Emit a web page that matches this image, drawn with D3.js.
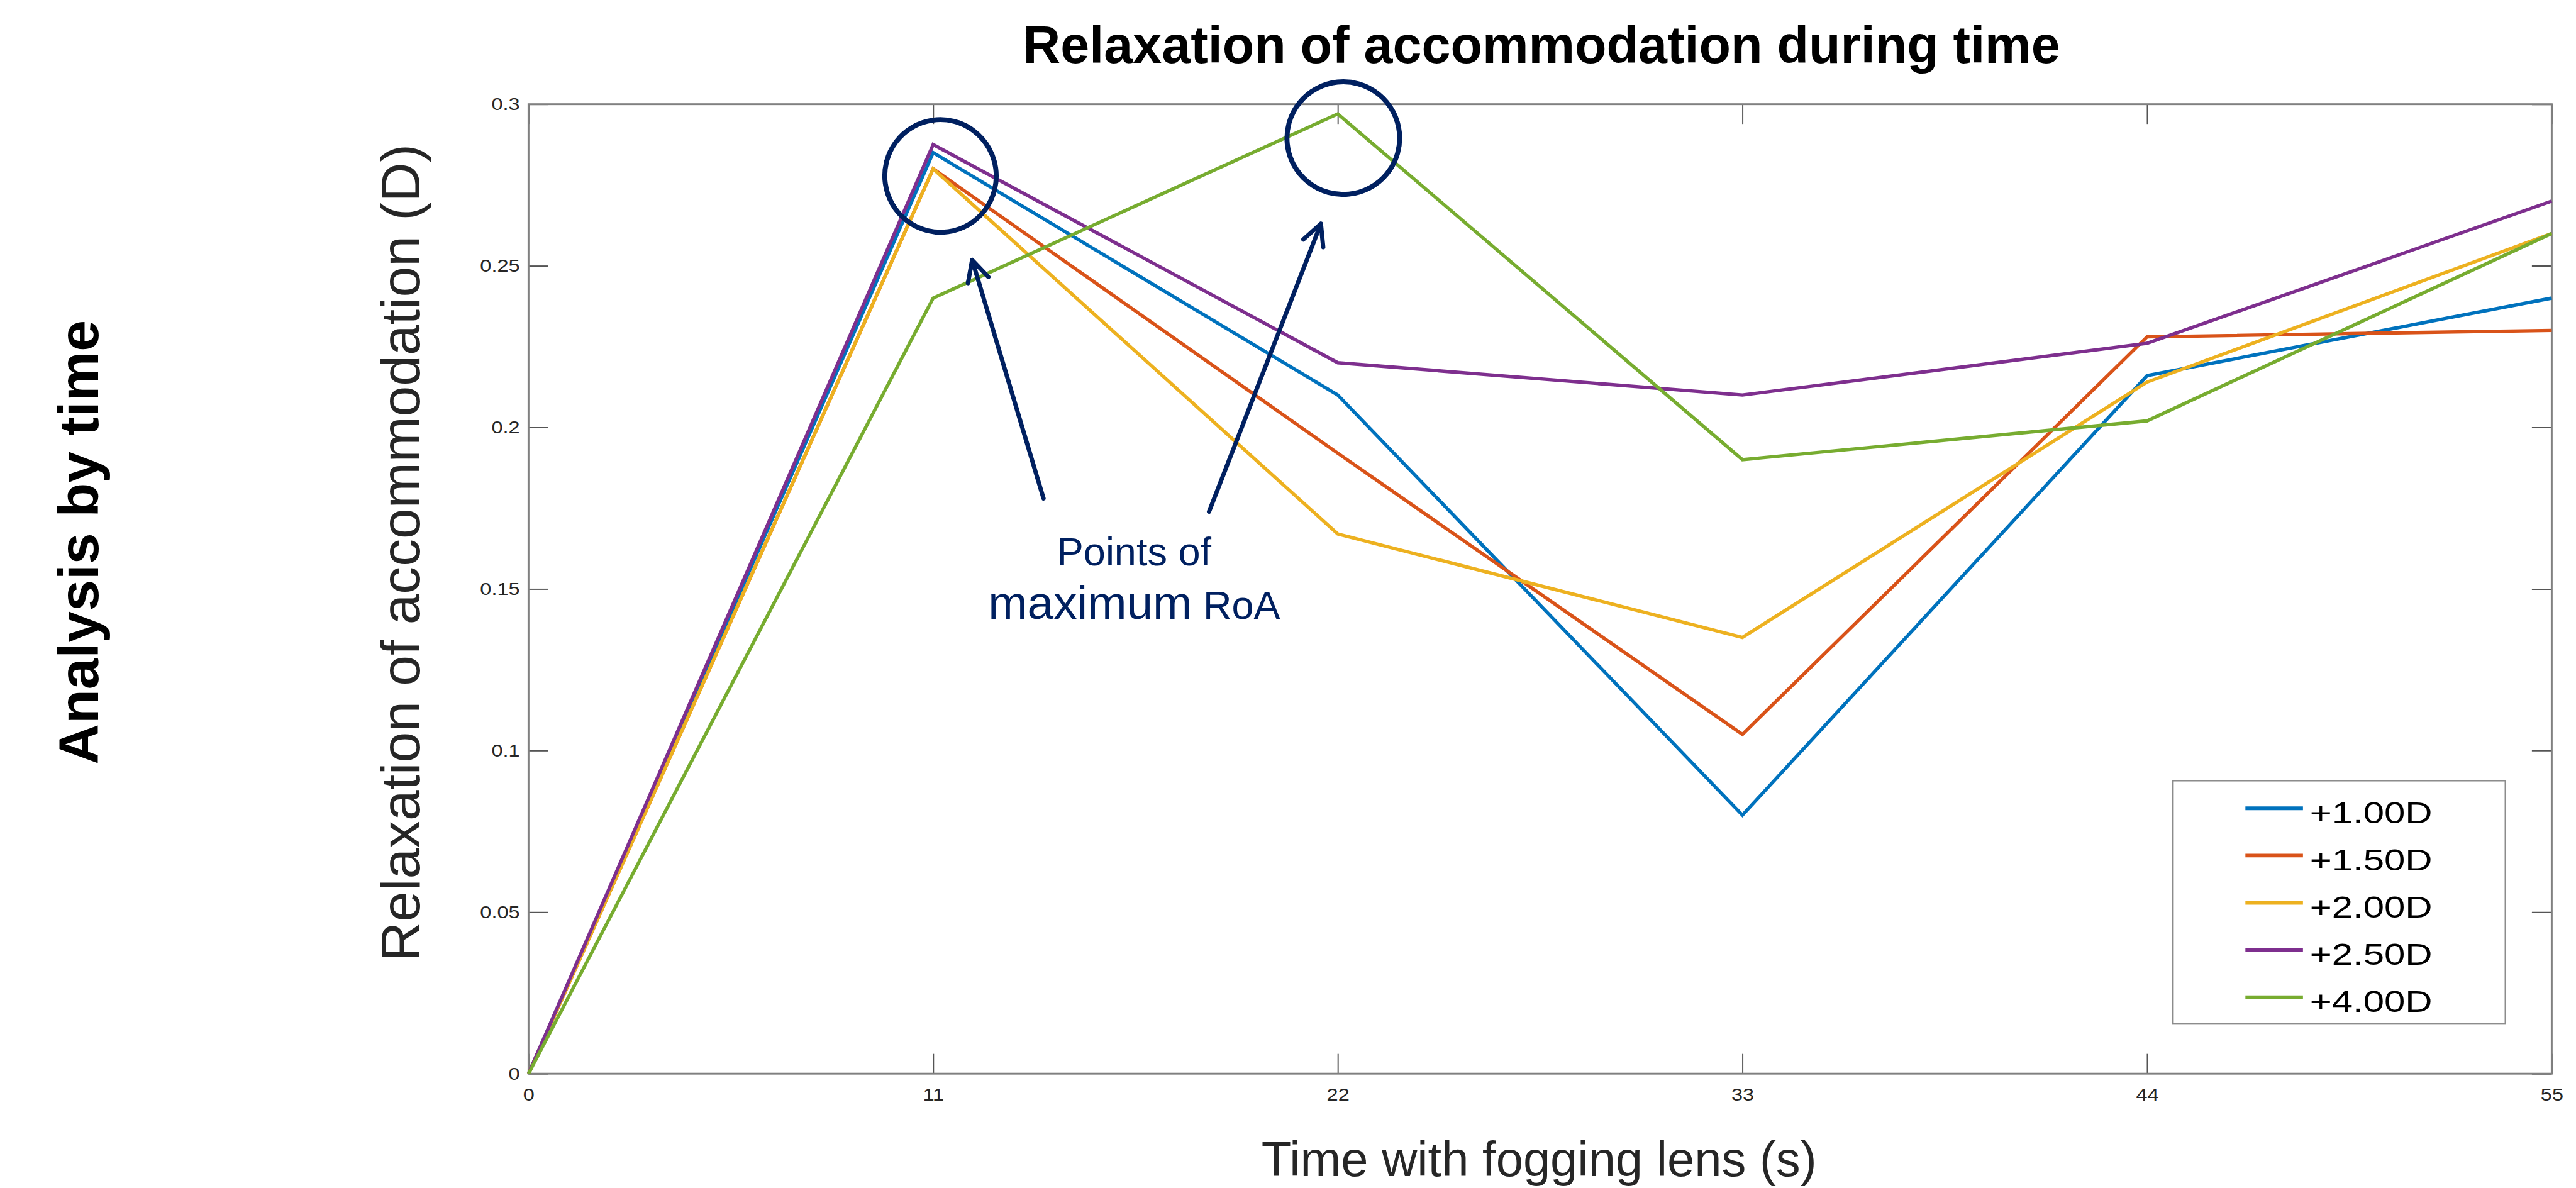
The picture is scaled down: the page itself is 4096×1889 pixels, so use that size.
<!DOCTYPE html>
<html>
<head>
<meta charset="utf-8">
<script src="https://cdn.jsdelivr.net/npm/d3@7"></script>
<style>
  html, body { margin: 0; padding: 0; background: #fff; }
  svg { display: block; }
  text { font-family: "Liberation Sans", Arial, Helvetica, sans-serif; }
</style>
</head>
<body>
<svg id="chart"></svg>
<script>
// data
const times = [0, 11, 22, 33, 44, 55];
const seriesNames = ["+1.00D", "+1.50D", "+2.00D", "+2.50D", "+4.00D"];
const roa100 = [0, 0.285, 0.21, 0.08, 0.216, 0.24];
const roa150 = [0, 0.28, 0.192, 0.105, 0.228, 0.23];
const roa200 = [0, 0.28, 0.167, 0.135, 0.214, 0.26];
const roa250 = [0, 0.2875, 0.22, 0.21, 0.226, 0.27];
const roa400 = [0, 0.24, 0.297, 0.19, 0.202, 0.26];
const yTicks = [0, 0.05, 0.1, 0.15, 0.2, 0.25, 0.3];
const xTicks = [0, 11, 22, 33, 44, 55];

const seriesValues = [roa100, roa150, roa200, roa250, roa400];
const seriesColors = ["#0072BD", "#D95319", "#EDB120", "#7E2F8E", "#77AC30"];
const navy = "#002060";

// layout in reference pixels, viewBox scales it to the window
const W = 4161, H = 1919;
const svg = d3.select("#chart")
    .attr("width", 4096)
    .attr("height", 1889)
    .attr("viewBox", `0 0 ${W} ${H}`);

const plot = {left: 853.7, right: 4121.8, top: 168.3, bottom: 1734.3};
const x = d3.scaleLinear().domain([0, 55]).range([plot.left, plot.right]);
const y = d3.scaleLinear().domain([0, 0.3]).range([plot.bottom, plot.top]);

const tickLen = 32;
const tickFont = 28;

function styleAxis(g) {
    g.select(".domain").remove();
    g.selectAll(".tick line").attr("stroke", "#555").attr("stroke-width", 2);
    g.selectAll(".tick text")
        .attr("fill", "#262626")
        .style("font-size", tickFont + "px")
        .style("font-family", "'Liberation Sans', Arial, sans-serif");
}

svg.append("g")
    .attr("transform", `translate(0,${plot.bottom})`)
    .call(d3.axisBottom(x).tickValues(xTicks).tickSizeInner(-tickLen).tickSizeOuter(0).tickPadding(24))
    .call(styleAxis);

svg.append("g")
    .attr("transform", `translate(${plot.left},0)`)
    .call(d3.axisLeft(y).tickValues(yTicks).tickFormat(d3.format("~g")).tickSizeInner(-tickLen).tickSizeOuter(0).tickPadding(14))
    .call(styleAxis);

svg.append("g")
    .attr("transform", `translate(0,${plot.top})`)
    .call(d3.axisTop(x).tickValues(xTicks).tickFormat("").tickSizeInner(-tickLen).tickSizeOuter(0))
    .call(styleAxis);

svg.append("g")
    .attr("transform", `translate(${plot.right},0)`)
    .call(d3.axisRight(y).tickValues(yTicks).tickFormat("").tickSizeInner(-tickLen).tickSizeOuter(0))
    .call(styleAxis);

// the matlab part of the picture is a bit wider than the font
svg.selectAll(".tick text").each(function() {
    const len = this.getComputedTextLength();
    if (len > 0) {
        d3.select(this).attr("textLength", len * 1.18).attr("lengthAdjust", "spacingAndGlyphs");
    }
});

svg.append("rect")
    .attr("x", plot.left)
    .attr("y", plot.top)
    .attr("width", plot.right - plot.left)
    .attr("height", plot.bottom - plot.top)
    .attr("fill", "none")
    .attr("stroke", "#808080")
    .attr("stroke-width", 3);

// series
const series = seriesNames.map((name, i) => ({name: name, color: seriesColors[i], values: seriesValues[i]}));

const line = d3.line()
    .x((d, i) => x(times[i]))
    .y(d => y(d));

svg.append("g")
    .selectAll("path")
    .data(series)
    .join("path")
    .attr("d", d => line(d.values))
    .attr("fill", "none")
    .attr("stroke", d => d.color)
    .attr("stroke-width", 5.5);

// legend
const legend = svg.append("g");
legend.append("rect")
    .attr("x", 3510).attr("y", 1261)
    .attr("width", 537).attr("height", 393)
    .attr("fill", "#fff")
    .attr("stroke", "#8c8c8c")
    .attr("stroke-width", 2.5);

const rows = legend.selectAll(".row")
    .data(series)
    .join("g")
    .attr("class", "row")
    .attr("transform", (d, i) => `translate(0,${1305.7 + i * 76.3})`);

rows.append("line")
    .attr("x1", 3627).attr("x2", 3720)
    .attr("stroke", d => d.color)
    .attr("stroke-width", 6);

rows.append("text")
    .attr("x", 3731)
    .attr("y", 24)
    .attr("textLength", 198)
    .attr("lengthAdjust", "spacingAndGlyphs")
    .style("font-size", "48px")
    .attr("fill", "#000")
    .text(d => d.name);

// titles and axis labels
svg.append("text")
    .attr("x", 2490).attr("y", 102)
    .attr("text-anchor", "middle")
    .style("font-size", "84px")
    .style("font-weight", "bold")
    .text("Relaxation of accommodation during time");

svg.append("text")
    .attr("x", 2486).attr("y", 1900)
    .attr("text-anchor", "middle")
    .attr("fill", "#262626")
    .style("font-size", "79px")
    .text("Time with fogging lens (s)");

svg.append("text")
    .attr("transform", "translate(678,893) rotate(-90)")
    .attr("text-anchor", "middle")
    .attr("fill", "#262626")
    .style("font-size", "89px")
    .text("Relaxation of accommodation (D)");

svg.append("text")
    .attr("transform", "translate(158,876) rotate(-90)")
    .attr("text-anchor", "middle")
    .style("font-size", "91px")
    .style("font-weight", "bold")
    .text("Analysis by time");

// annotation: circles, arrows and note, placed in data units
const circles = [
    {t: 11.2, v: 0.2778, rx: 90, ry: 91, rot: -8},
    {t: 22.15, v: 0.2895, rx: 91, ry: 91, rot: -6}
];
const arrows = [
    {t0: 14.0, v0: 0.178, t1: 12.06, v1: 0.2518},
    {t0: 18.5, v0: 0.1739, t1: 21.54, v1: 0.263}
];

const note = svg.append("g").attr("fill", "none").attr("stroke", navy);

note.selectAll("ellipse")
    .data(circles)
    .join("ellipse")
    .attr("transform", d => `translate(${x(d.t)},${y(d.v)}) rotate(${d.rot})`)
    .attr("rx", d => d.rx)
    .attr("ry", d => d.ry)
    .attr("stroke-width", 8);

function arrowPath(d) {
    const x0 = x(d.t0), y0 = y(d.v0), x1 = x(d.t1), y1 = y(d.v1);
    const a = Math.atan2(y1 - y0, x1 - x0);
    const len = 38, ang = 0.47;
    const p = d3.path();
    p.moveTo(x0, y0);
    p.lineTo(x1, y1);
    p.moveTo(x1 - len * Math.cos(a - ang), y1 - len * Math.sin(a - ang));
    p.lineTo(x1, y1);
    p.lineTo(x1 - len * Math.cos(a + ang), y1 - len * Math.sin(a + ang));
    return p.toString();
}

note.selectAll("path")
    .data(arrows)
    .join("path")
    .attr("d", arrowPath)
    .attr("stroke-width", 7)
    .attr("stroke-linecap", "round")
    .attr("stroke-linejoin", "round");

svg.append("text")
    .attr("x", 1832).attr("y", 913)
    .attr("text-anchor", "middle")
    .attr("fill", navy)
    .style("font-size", "64px")
    .text("Points of");

const note2 = svg.append("text")
    .attr("x", 1832).attr("y", 1000)
    .attr("text-anchor", "middle")
    .attr("fill", navy);
note2.append("tspan").style("font-size", "76px").text("maximum");
note2.append("tspan").style("font-size", "64px").text(" RoA");
</script>
</body>
</html>
